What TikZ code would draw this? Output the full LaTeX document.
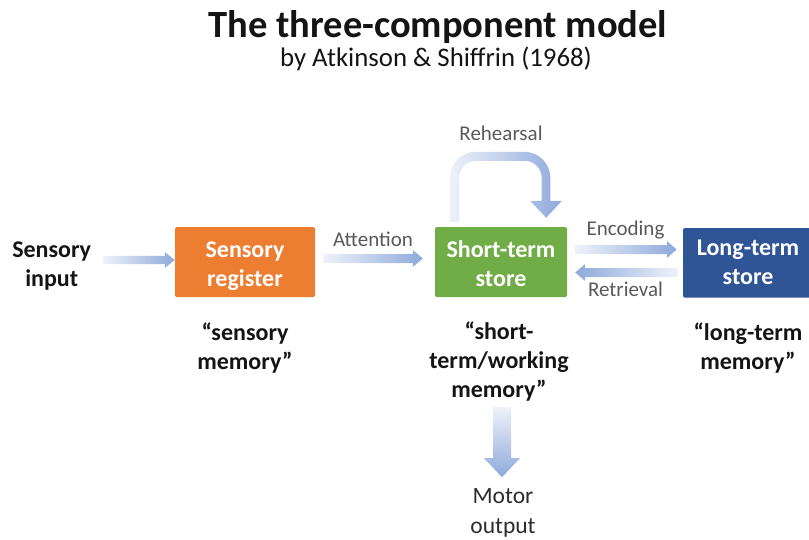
\documentclass[tikz,border=0pt]{standalone}
\usepackage{fontspec}
\setmainfont{Carlito}
\usetikzlibrary{calc}

\definecolor{regorange}{HTML}{ED7D31}
\definecolor{stgreen}{HTML}{70AD47}
\definecolor{ltblue}{HTML}{2F5597}
\definecolor{flowlight}{HTML}{EEF2FA}
\definecolor{flowdark}{HTML}{8EA9DB}
\definecolor{labelgray}{HTML}{595959}
\definecolor{inkdark}{HTML}{141414}
\definecolor{motorgray}{HTML}{2B2B2B}

% Block arrow with a shaded body: #1 shading, #2 tail, #3 tip,
% #4 half shaft width, #5 half head width, #6 head length
\newcommand\blockarrow[6]{%
  \coordinate (ba-hb) at ($(#3)!#6pt!(#2)$);
  \shade[#1] ($(#2)!#4pt!90:(#3)$) -- ($(ba-hb)!#4pt!90:(#3)$)
    -- ($(ba-hb)!#5pt!90:(#3)$) -- (#3) -- ($(ba-hb)!#5pt!-90:(#3)$)
    -- ($(ba-hb)!#4pt!-90:(#3)$) -- ($(#2)!#4pt!-90:(#3)$) -- cycle;}

% invisible strut that lowers the first line of a store label
\newcommand\lowerby[1]{\rule{0pt}{#1}}

\begin{document}
\begin{tikzpicture}[x=1pt,y=-1pt,
  store/.style={rectangle, rounded corners=1.5pt, minimum width=#1,
    minimum height=70pt, inner sep=0pt, text=white, align=center,
    font=\fontsize{24}{29}\selectfont\bfseries},
  bigtext/.style={align=center, text=inkdark, inner sep=0pt,
    font=\fontsize{24}{29}\selectfont\bfseries},
  flowlabel/.style={anchor=base, inner sep=0pt, text=labelgray,
    font=\fontsize{21}{25}\selectfont},
  tolight/.style={left color=flowlight, right color=flowdark},
  toleft/.style={left color=flowdark, right color=flowlight},
  todown/.style={top color=flowlight, bottom color=flowdark}]

\useasboundingbox (0,0) rectangle (809,539);

% heading
\node[anchor=base, inner sep=0pt, text=inkdark,
  font=\fontsize{38.5}{46}\selectfont\bfseries] (title) at (438,37)
  {The three-component model};
\node[anchor=base, inner sep=0pt, text=inkdark,
  font=\fontsize{26.8}{32}\selectfont] (subtitle) at (436,66.5)
  {by Atkinson \& Shiffrin (1968)};

% the three stores
\node[store=140pt, fill=regorange] (reg) at (245,262)
  {\lowerby{24pt}Sensory\\register};
\node[store=132pt, fill=stgreen] (stm) at (501,262)
  {\lowerby{19.5pt}Short-term\\store};
\node[store=130pt, minimum height=69.5pt, fill=ltblue] (ltm) at (748,262.75)
  {Long-term\\store};

% input, memory names and output
\node[bigtext] (input) at (51.7,266) {Sensory\\input};
\node[bigtext] (regmem) at (245,347.7) {“sensory\\memory”};
\node[bigtext] (stmmem) at (499,362) {“short-\\term/working\\memory”};
\node[bigtext] (ltmmem) at (748,347.6) {“long-term\\memory”};
\node[align=center, inner sep=0pt, text=motorgray,
  font=\fontsize{23.5}{30}\selectfont] (motor) at (503,513) {Motor\\output};

% flow labels
\node[flowlabel] (attn) at (373,246.7) {Attention};
\node[flowlabel] (rehe) at (501,140) {Rehearsal};
\node[flowlabel] (enc) at (625.5,235) {Encoding};
\node[flowlabel] (ret) at (625.5,296.7) {Retrieval};

% arrow end points
\coordinate (in-tail) at ($(input.east |- reg.west)+(11.5,-2)$);
\coordinate (in-tip) at ($(reg.west)+(0,-2)$);
\coordinate (att-tail) at ($(reg.east)+(8,-3.5)$);
\coordinate (att-tip) at ($(stm.west)+(-12,-3.5)$);
\coordinate (enc-tail) at ($(stm.east)+(8,-12.5)$);
\coordinate (enc-tip) at ($(ltm.west)+(-6,-13.25)$);
\coordinate (ret-tail) at ($(ltm.west)+(-5,9.75)$);
\coordinate (ret-tip) at ($(stm.east)+(8,10.5)$);
\coordinate (mo-tail) at ($(stm.south)+(1,110)$);
\coordinate (mo-tip) at ($(stm.south)+(1,180)$);
\coordinate (rh-foot) at ($(stm.north west)+(15,-5)$);
\coordinate (rh-tip) at ($(stm.north east)+(-21,-9)$);

% straight flows
\blockarrow{tolight}{in-tail}{in-tip}{4.2}{8}{10}
\blockarrow{tolight}{att-tail}{att-tip}{4.5}{8.5}{10}
\blockarrow{tolight}{enc-tail}{enc-tip}{4.5}{8.5}{10}
\blockarrow{toleft}{ret-tail}{ret-tip}{4.5}{8.5}{10}
\blockarrow{todown}{mo-tail}{mo-tip}{9}{18}{19}

% rehearsal loop back into the short-term store
\shade[tolight] (rh-foot) -- ++(0,-44)
  arc[start angle=180, end angle=270, radius=26] -- ++(48.5,0)
  arc[start angle=270, end angle=360, radius=26] -- ++(0,23)
  -- ++(11.5,0) -- (rh-tip) -- ++(-16,-17) -- ++(11.5,0) -- ++(0,-23)
  arc[start angle=0, end angle=-90, radius=17] -- ++(-48.5,0)
  arc[start angle=270, end angle=180, radius=17] -- ++(0,44) -- cycle;

\end{tikzpicture}
\end{document}
